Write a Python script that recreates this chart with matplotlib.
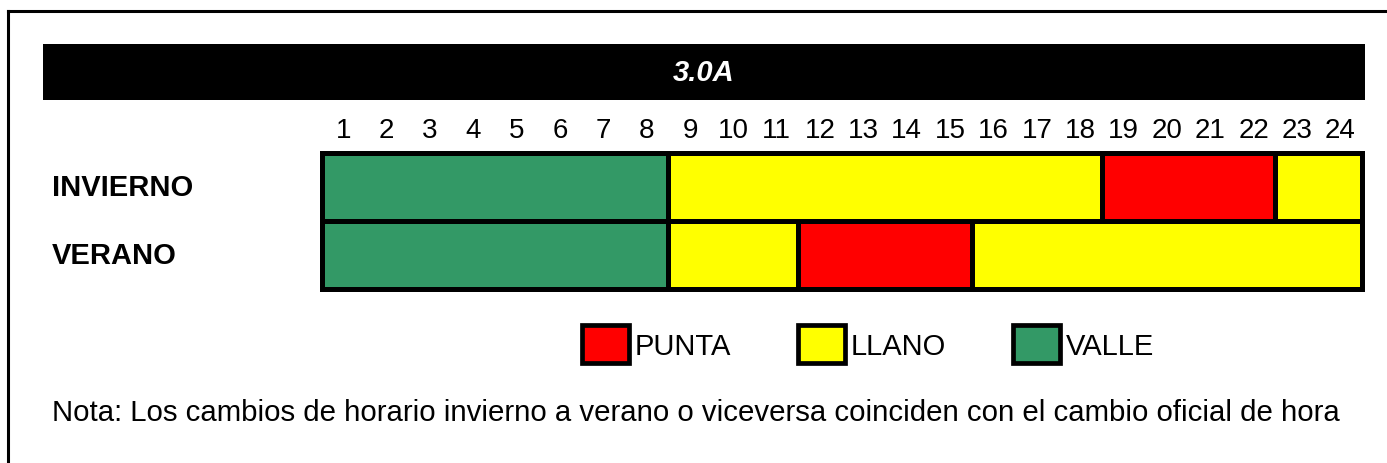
import matplotlib.pyplot as plt
from matplotlib.patches import Patch
from matplotlib.lines import Line2D
import matplotlib.transforms as mtransforms

plt.rcParams['font.family'] = ['Liberation Sans', 'DejaVu Sans']

title = '3.0A'
hours = [str(h) for h in range(1, 25)]
seasons = ['INVIERNO', 'VERANO']
# tramos por temporada: (hora inicio, hora fin, periodo)
invierno = [(0, 8, 'VALLE'), (8, 18, 'LLANO'), (18, 22, 'PUNTA'), (22, 24, 'LLANO')]
verano = [(0, 8, 'VALLE'), (8, 11, 'LLANO'), (11, 15, 'PUNTA'), (15, 24, 'LLANO')]
periods = ['PUNTA', 'LLANO', 'VALLE']
colors = {'PUNTA': '#ff0000', 'LLANO': '#ffff00', 'VALLE': '#339966'}
note = ('Nota: Los cambios de horario invierno a verano o viceversa '
        'coinciden con el cambio oficial de hora')

W, H = 1387, 464
fig = plt.figure(figsize=(W / 100, H / 100), dpi=100)


def box(x0, y0, x1, y1):
    # pixel box -> figure fraction rect
    return [x0 / W, 1 - y1 / H, (x1 - x0) / W, (y1 - y0) / H]


# marco exterior
fig.add_artist(Line2D([8 / W, 8 / W], [0, 1 - 12 / H], color='black', lw=2.2))
fig.add_artist(Line2D([8 / W, 1], [1 - 12 / H, 1 - 12 / H], color='black', lw=2.2))

# barra de titulo
tax = fig.add_axes(box(43, 45, 1365, 101))
tax.set_facecolor('black')
tax.set_xticks([])
tax.set_yticks([])
for s in tax.spines.values():
    s.set_visible(False)
tax.text(0.5, 0.5, title, color='white', fontsize=21, fontweight='bold',
         fontstyle='italic', ha='center', va='center', transform=tax.transAxes)

# horario
ax = fig.add_axes(box(321.5, 153.5, 1362, 290))
for row, segs in enumerate([invierno, verano]):
    for start, end, p in segs:
        ax.barh(row, end - start, left=start, height=1, color=colors[p],
                edgecolor='black', linewidth=3.6, clip_on=False)
ax.set_xlim(0, 24)
ax.set_ylim(1.5, -0.5)
ax.xaxis.tick_top()
ax.set_xticks([i + 0.5 for i in range(24)])
ax.set_xticklabels(hours, fontsize=20)
ax.tick_params(axis='x', length=0, pad=7)
ax.set_yticks([])
for s in ax.spines.values():
    s.set_visible(False)

trans = mtransforms.blended_transform_factory(fig.transFigure, ax.transData)
for row, name in enumerate(seasons):
    ax.text(52 / W, row, name, transform=trans, fontsize=21, fontweight='bold',
            ha='left', va='center')

# leyenda
handles = [Patch(facecolor=colors[p], edgecolor='black', linewidth=3.4, label=p)
           for p in periods]
fig.legend(handles=handles, loc='center', bbox_to_anchor=(868 / W, 1 - 345 / H),
           ncol=3, frameon=False, fontsize=21, handlelength=1.6, handleheight=1.65,
           handletextpad=0.2, columnspacing=2.3)

fig.text(52 / W, 1 - 413 / H, note, fontsize=21.2, ha='left', va='center')

fig.savefig('out.png', dpi=100)
